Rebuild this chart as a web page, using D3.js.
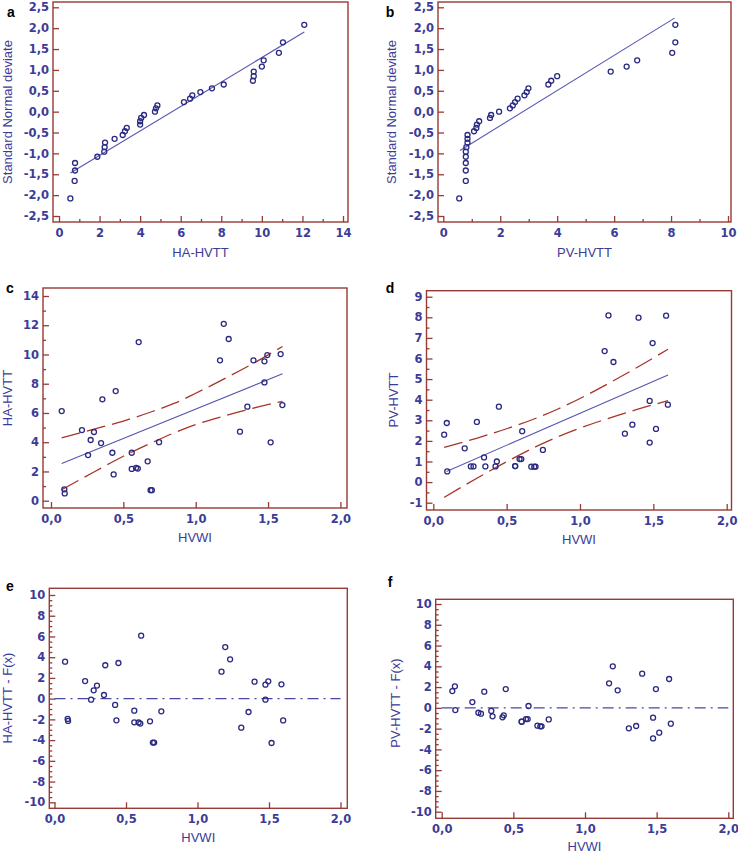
<!DOCTYPE html>
<html>
<head>
<meta charset="utf-8">
<script src="https://cdn.jsdelivr.net/npm/d3@7"></script>
<style>
  body { margin:0; background:#fff; }
  svg { display:block; }
</style>
</head>
<body>
<div id="chart"></div>
<script>
//DATA
var hvwi = [0.074,0.092,0.095,0.214,0.256,0.274,0.297,0.346,0.355,0.424,0.433,0.447,0.558,0.558,0.588,0.600,0.606,0.668,0.688,0.697,0.747,1.168,1.194,1.228,1.306,1.357,1.399,1.475,1.475,1.495,1.518,1.587,1.599];
var haHvtt = [6.13,0.78,0.5,4.83,3.12,4.15,4.7,3.94,6.93,3.28,1.8,7.5,3.28,2.17,2.25,2.2,10.85,2.69,0.72,0.72,4.0,9.6,12.1,11.06,4.72,6.43,9.6,9.53,8.09,9.96,3.99,10.03,6.54];
var pvHvtt = [2.30,2.87,0.52,1.64,0.76,0.76,2.92,1.2,0.76,0.76,1.0,3.66,0.78,0.78,1.12,1.12,2.47,0.75,0.75,0.75,1.56,6.36,8.09,5.83,2.35,2.79,7.98,3.94,1.92,6.75,2.58,8.08,3.76];
var haResid = [3.57,-1.96,-2.15,1.7,-0.1,0.8,1.26,0.35,3.22,-0.61,-2.09,3.44,-1.16,-2.28,-2.3,-2.4,6.08,-2.19,-4.24,-4.24,-1.22,2.6,4.98,3.79,-2.8,-1.29,1.64,1.35,-0.1,1.67,-4.28,1.38,-2.1];
var pvResid = [1.62,2.07,-0.21,0.56,-0.47,-0.56,1.56,-0.3,-0.82,-0.91,-0.72,1.81,-1.33,-1.33,-1.08,-1.08,0.18,-1.72,-1.78,-1.78,-1.11,2.36,4.0,1.69,-1.97,-1.75,3.29,-0.95,-2.94,1.81,-2.39,2.78,-1.52];

var normalDeviate = [-2.08,-1.66,-1.41,-1.23,-1.08,-0.96,-0.85,-0.74,-0.65,-0.56,-0.47,-0.39,-0.31,-0.23,-0.15,-0.08,0,0.08,0.15,0.23,0.31,0.39,0.47,0.56,0.65,0.74,0.85,0.96,1.08,1.23,1.41,1.66,2.08];
var haSorted = [0.56,0.77,0.79,0.79,1.89,2.23,2.25,2.27,2.74,3.14,3.25,3.34,4.0,4.0,4.05,4.19,4.73,4.78,4.85,6.16,6.46,6.57,6.97,7.54,8.12,9.56,9.6,9.6,10.0,10.09,10.84,11.04,12.09];
var pvSorted = [0.56,0.79,0.79,0.79,0.79,0.79,0.81,0.85,0.85,0.85,1.08,1.16,1.18,1.26,1.64,1.68,1.96,2.34,2.44,2.52,2.61,2.85,2.93,2.99,3.69,3.79,4.0,5.88,6.44,6.81,8.04,8.15,8.15];

// fitted lines, end points as drawn
var fitA = [[0.56,-1.47],[12.09,1.91]];
var fitB = [[0.59,-0.93],[8.12,2.24]];
var fitC = [[0.074,2.55],[1.6,8.68]];
var fitD = [[0.09,0.52],[1.6,5.2]];

// 95% CI curves of c and d
var ciX = [0.074,0.3,0.5,0.7,0.85,1.0,1.2,1.4,1.6];
var ciUpperC = [4.3,4.9,5.45,6.1,6.65,7.35,8.35,9.4,10.55];
var ciLowerC = [0.75,1.98,3.04,3.98,4.64,5.2,5.8,6.33,6.8];
var ciUpperD = [1.68,2.14,2.59,3.1,3.55,4.06,4.81,5.61,6.45];
var ciLowerD = [-0.74,0.2,0.99,1.72,2.2,2.62,3.11,3.55,3.95];

// ticks
var deviateTicks = [-2.5,-2,-1.5,-1,-0.5,0,0.5,1,1.5,2,2.5];
var haTicks = [0,2,4,6,8,10,12,14], haMinor = [1,3,5,7,9,11,13];
var pvTicks = [0,2,4,6,8,10], pvMinor = [1,3,5,7,9];
var hvwiTicks = [0,0.5,1,1.5,2];
var cYTicks = [0,2,4,6,8,10,12,14], cYMinor = [1,3,5,7,9,11,13];
var dYTicks = [-1,0,1,2,3,4,5,6,7,8,9], dYMinor = [-0.5,0.5,1.5,2.5,3.5,4.5,5.5,6.5,7.5,8.5];
var residTicks = [-10,-8,-6,-4,-2,0,2,4,6,8,10];
var residMinor = d3.range(-10,10.01,0.5).filter(function(v){ return v % 2 !== 0; });

//STYLE
var frameCol = "#983a36";
var textCol = "#3c3c98";
var pointCol = "#2a2a80";
var lineCol = "#5656b2";
var ciCol = "#a8342a";

var comma1 = function(v){ return v.toFixed(1).replace(".", ","); };
var intFmt = function(v){ return String(v); };

function zip(xs, ys){ return xs.map(function(x,i){ return [x, ys[i]]; }); }

var panels = [
  { letter:"a", lpos:[11,12], frame:[53,2,348,222], xDom:[0,14], xR:[59,343], yDom:[-2.5,2.5], yR:[216,7.3],
    xTicks:haTicks, xMinor:haMinor, yTicks:deviateTicks, yMinor:[], xFmt:intFmt, yFmt:comma1,
    xTitle:"HA-HVTT", xTitleY:257, yTitle:"Standard Normal deviate", yTitleX:12, yTitleY:112,
    pts:zip(haSorted, normalDeviate), fit:fitA },
  { letter:"b", lpos:[390,12], frame:[438,2,731,222], xDom:[0,10], xR:[443.3,728], yDom:[-2.5,2.5], yR:[216,7.3],
    xTicks:pvTicks, xMinor:pvMinor, yTicks:deviateTicks, yMinor:[], xFmt:intFmt, yFmt:comma1,
    xTitle:"PV-HVTT", xTitleY:257, yTitle:"Standard Normal deviate", yTitleX:396, yTitleY:112,
    pts:zip(pvSorted, normalDeviate), fit:fitB },
  { letter:"c", lpos:[10,288], frame:[43,288,347,508], xDom:[0,2], xR:[51,340.4], yDom:[0,14], yR:[500.7,296],
    xTicks:hvwiTicks, xMinor:[], yTicks:cYTicks, yMinor:cYMinor, xFmt:comma1, yFmt:intFmt,
    xTitle:"HVWI", xTitleY:542, yTitle:"HA-HVTT", yTitleX:12, yTitleY:398,
    pts:zip(hvwi, haHvtt), fit:fitC, ci:[zip(ciX,ciUpperC), zip(ciX,ciLowerC)] },
  { letter:"d", lpos:[390,288], frame:[426.5,290.7,731.5,510], xDom:[0,2], xR:[433.3,726.7], yDom:[-1,9], yR:[502.7,296.7],
    xTicks:hvwiTicks, xMinor:[], yTicks:dYTicks, yMinor:dYMinor, xFmt:comma1, yFmt:intFmt,
    xTitle:"HVWI", xTitleY:544, yTitle:"PV-HVTT", yTitleX:398, yTitleY:400,
    pts:zip(hvwi, pvHvtt), fit:fitD, ci:[zip(ciX,ciUpperD), zip(ciX,ciLowerD)] },
  { letter:"e", lpos:[10,586], frame:[49.3,588.3,347.3,808.3], xDom:[0,2], xR:[54.5,340.5], yDom:[-10,10], yR:[802.3,595],
    xTicks:hvwiTicks, xMinor:[], yTicks:residTicks, yMinor:residMinor, xFmt:comma1, yFmt:intFmt,
    xTitle:"HVWI", xTitleY:842, yTitle:"HA-HVTT - F(x)", yTitleX:12, yTitleY:698,
    pts:zip(hvwi, haResid), zero:true },
  { letter:"f", lpos:[390,582], frame:[435.7,599.3,733.3,818.3], xDom:[0,2], xR:[441.7,728.3], yDom:[-10,10], yR:[811.7,604],
    xTicks:hvwiTicks, xMinor:[], yTicks:residTicks, yMinor:residMinor, xFmt:comma1, yFmt:intFmt,
    xTitle:"HVWI", xTitleY:851, yTitle:"PV-HVTT - F(x)", yTitleX:400, yTitleY:703,
    pts:zip(hvwi, pvResid), zero:true }
];

var svg = d3.select("#chart").append("svg")
  .attr("width", 738)
  .attr("height", 853);

svg.append("rect").attr("width",738).attr("height",853).attr("fill","#fff");

panels.forEach(function(p){
  var g = svg.append("g").attr("class","panel-"+p.letter);
  var x = d3.scaleLinear().domain(p.xDom).range(p.xR);
  var y = d3.scaleLinear().domain(p.yDom).range(p.yR);
  var f = p.frame;

  //frame
  g.append("rect")
    .attr("x",f[0]).attr("y",f[1])
    .attr("width",f[2]-f[0]).attr("height",f[3]-f[1])
    .attr("fill","none").attr("stroke",frameCol).attr("stroke-width",1.4);

  //axes, ticks point inward
  var yAx = g.append("g").attr("transform","translate("+f[0]+",0)")
    .call(d3.axisLeft(y).tickValues(p.yTicks).tickSizeInner(-6).tickSizeOuter(0).tickPadding(4).tickFormat(p.yFmt));
  var yMin = g.append("g").attr("transform","translate("+f[0]+",0)")
    .call(d3.axisLeft(y).tickValues(p.yMinor).tickSizeInner(-3).tickSizeOuter(0).tickFormat(""));
  var xAx = g.append("g").attr("transform","translate(0,"+f[3]+")")
    .call(d3.axisBottom(x).tickValues(p.xTicks).tickSizeInner(-6).tickSizeOuter(0).tickPadding(7).tickFormat(p.xFmt));
  var xMin = g.append("g").attr("transform","translate(0,"+f[3]+")")
    .call(d3.axisBottom(x).tickValues(p.xMinor).tickSizeInner(-3).tickSizeOuter(0).tickFormat(""));

  [yAx,yMin,xAx,xMin].forEach(function(a){
    a.select(".domain").remove();
    a.selectAll(".tick line").attr("stroke",frameCol).attr("stroke-width",1.3);
    a.selectAll(".tick text")
      .attr("fill",textCol)
      .style("font-family","'DejaVu Sans', Verdana, sans-serif")
      .style("font-weight","bold")
      .style("font-size","11.5px");
  });

  //titles
  g.append("text")
    .attr("x",(f[0]+f[2])/2).attr("y",p.xTitleY)
    .attr("text-anchor","middle")
    .attr("fill",textCol)
    .style("font-family","'Liberation Sans', Arial, sans-serif")
    .style("font-size","13px")
    .text(p.xTitle);
  g.append("text")
    .attr("transform","translate("+p.yTitleX+","+p.yTitleY+") rotate(-90)")
    .attr("text-anchor","middle")
    .attr("fill",textCol)
    .style("font-family","'Liberation Sans', Arial, sans-serif")
    .style("font-size","13px")
    .text(p.yTitle);
  g.append("text")
    .attr("x",p.lpos[0]).attr("y",p.lpos[1]+5)
    .attr("text-anchor","middle")
    .attr("fill","#000")
    .style("font-family","'Liberation Sans', Arial, sans-serif")
    .style("font-weight","bold")
    .style("font-size","14px")
    .text(p.letter);

  var line = d3.line().x(function(d){ return x(d[0]); }).y(function(d){ return y(d[1]); });

  if (p.ci) {
    p.ci.forEach(function(c){
      g.append("path")
        .attr("d", line.curve(d3.curveMonotoneX)(c))
        .attr("fill","none").attr("stroke",ciCol)
        .attr("stroke-width",1.3).attr("stroke-dasharray","19,7");
    });
    line.curve(d3.curveLinear);
  }

  if (p.fit) {
    g.append("path")
      .attr("d", line(p.fit))
      .attr("fill","none").attr("stroke",lineCol).attr("stroke-width",1.1);
  }

  if (p.zero) {
    g.append("line")
      .attr("x1",x(0)).attr("x2",x(2))
      .attr("y1",y(0)).attr("y2",y(0))
      .attr("stroke","#4848a4").attr("stroke-width",1.3)
      .attr("stroke-dasharray","11,5,2,5");
  }

  //points
  g.append("g").selectAll("circle")
    .data(p.pts)
    .enter().append("circle")
    .attr("cx",function(d){ return x(d[0]); })
    .attr("cy",function(d){ return y(d[1]); })
    .attr("r",2.5)
    .attr("fill","none")
    .attr("stroke",pointCol)
    .attr("stroke-width",1.3);
});
</script>
</body>
</html>
